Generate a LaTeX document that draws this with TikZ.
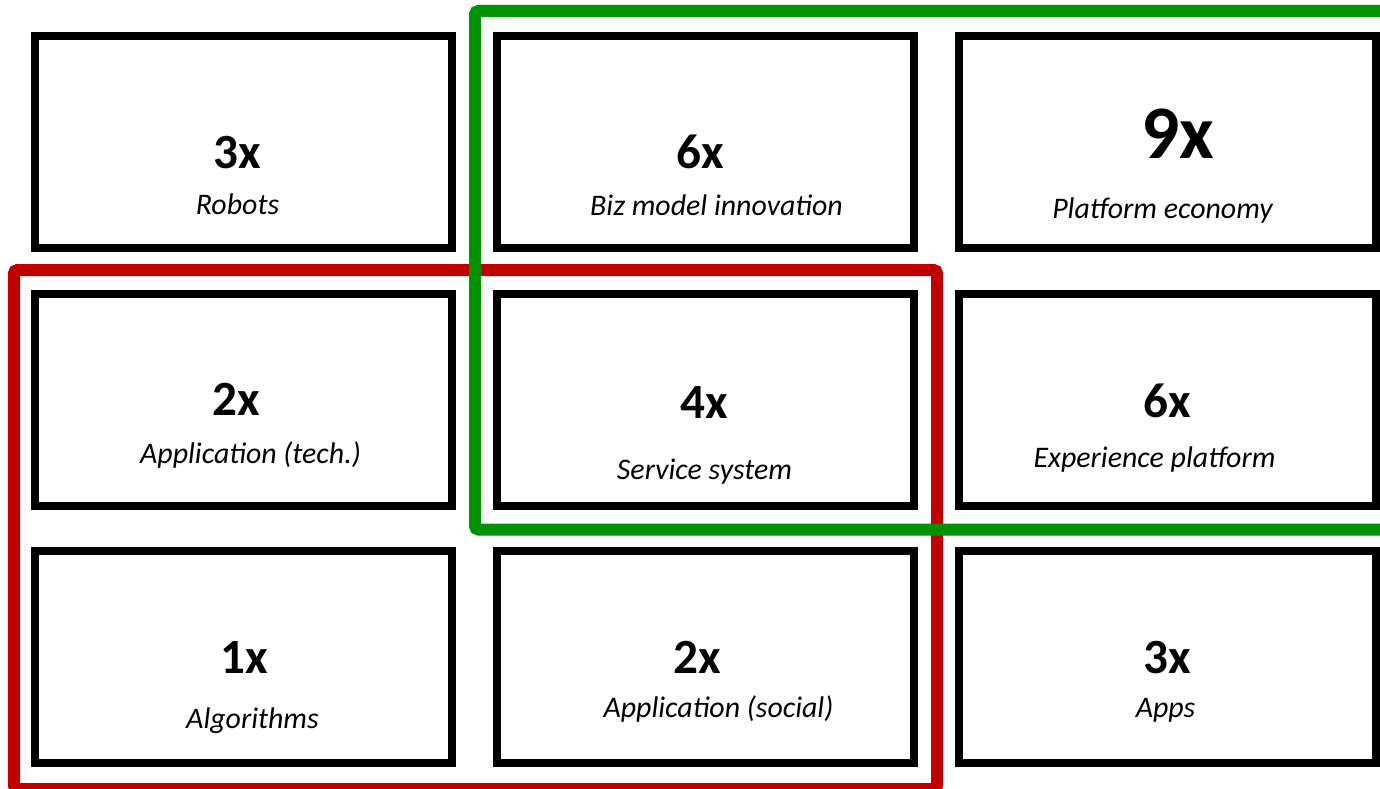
\documentclass[tikz,border=0pt]{standalone}
\usepackage{fontspec}
\setmainfont{Carlito}
\usetikzlibrary{positioning}
\definecolor{grpgreen}{RGB}{0,146,0}
\definecolor{grpred}{RGB}{192,0,0}

\begin{document}
\begin{tikzpicture}[node distance=5.15cm and 9.24cm,on grid,
	box/.style={draw,line width=0.16cm,minimum width=8.34cm,minimum height=4.24cm},
	num/.style={anchor=base,font=\fontsize{28}{30}\selectfont\bfseries},
	lbl/.style={anchor=base,font=\fontsize{17}{19}\selectfont\itshape}]
	\useasboundingbox (0,0) rectangle (27.6,-15.76);
	\clip (0,0) rectangle (27.6,-15.76);
	\node[box] (1) at (4.87,-2.84) {};
	\node[box,right=of 1] (2) {};
	\node[box,right=of 2] (3) {};
	\node[box,below=of 1] (4) {};
	\node[box,right=of 4] (5) {};
	\node[box,right=of 5] (6) {};
	\node[box,below=of 4] (7) {};
	\node[box,right=of 7] (8) {};
	\node[box,right=of 8] (9) {};
	% numbers
	\node[num] (n1) at ([xshift=-0.12cm,yshift=-0.52cm]1) {3x};
	\node[num] (n2) at ([xshift=-0.10cm,yshift=-0.52cm]2) {6x};
	\node[num,font=\fontsize{43}{45}\selectfont\bfseries] (n3) at ([xshift=0.20cm,yshift=-0.32cm]3) {9x};
	\node[num] (n4) at ([xshift=-0.14cm,yshift=-0.32cm]4) {2x};
	\node[num] (n5) at ([xshift=-0.02cm,yshift=-0.38cm]5) {4x};
	\node[num] (n6) at ([yshift=-0.36cm]6) {6x};
	\node[num] (n7) at ([xshift=0.02cm,yshift=-0.32cm]7) {1x};
	\node[num] (n8) at ([xshift=-0.16cm,yshift=-0.32cm]8) {2x};
	\node[num] (n9) at ([yshift=-0.32cm]9) {3x};
	% labels
	\node[lbl] (l1) at ([xshift=-0.12cm,yshift=-1.44cm]1) {Robots};
	\node[lbl] (l2) at ([xshift=0.22cm,yshift=-1.46cm]2) {Biz model innovation};
	\node[lbl] (l3) at ([xshift=-0.10cm,yshift=-1.52cm]3) {Platform economy};
	\node[lbl] (l4) at ([xshift=0.14cm,yshift=-1.28cm]4) {Application (tech.)};
	\node[lbl] (l5) at ([xshift=-0.02cm,yshift=-1.60cm]5) {Service system};
	\node[lbl] (l6) at ([xshift=-0.26cm,yshift=-1.36cm]6) {Experience platform};
	\node[lbl] (l7) at ([xshift=0.18cm,yshift=-1.42cm]7) {Algorithms};
	\node[lbl] (l8) at ([xshift=0.26cm,yshift=-1.20cm]8) {Application (social)};
	\node[lbl] (l9) at ([xshift=-0.04cm,yshift=-1.20cm]9) {Apps};
	% groups
	\draw[grpred,line width=0.24cm,rounded corners=2pt] (0.28,-5.40) rectangle (18.74,-15.78);
	\draw[grpgreen,line width=0.24cm,rounded corners=2pt] (9.50,-0.22) rectangle (28.0,-10.59);
\end{tikzpicture}
\end{document}
